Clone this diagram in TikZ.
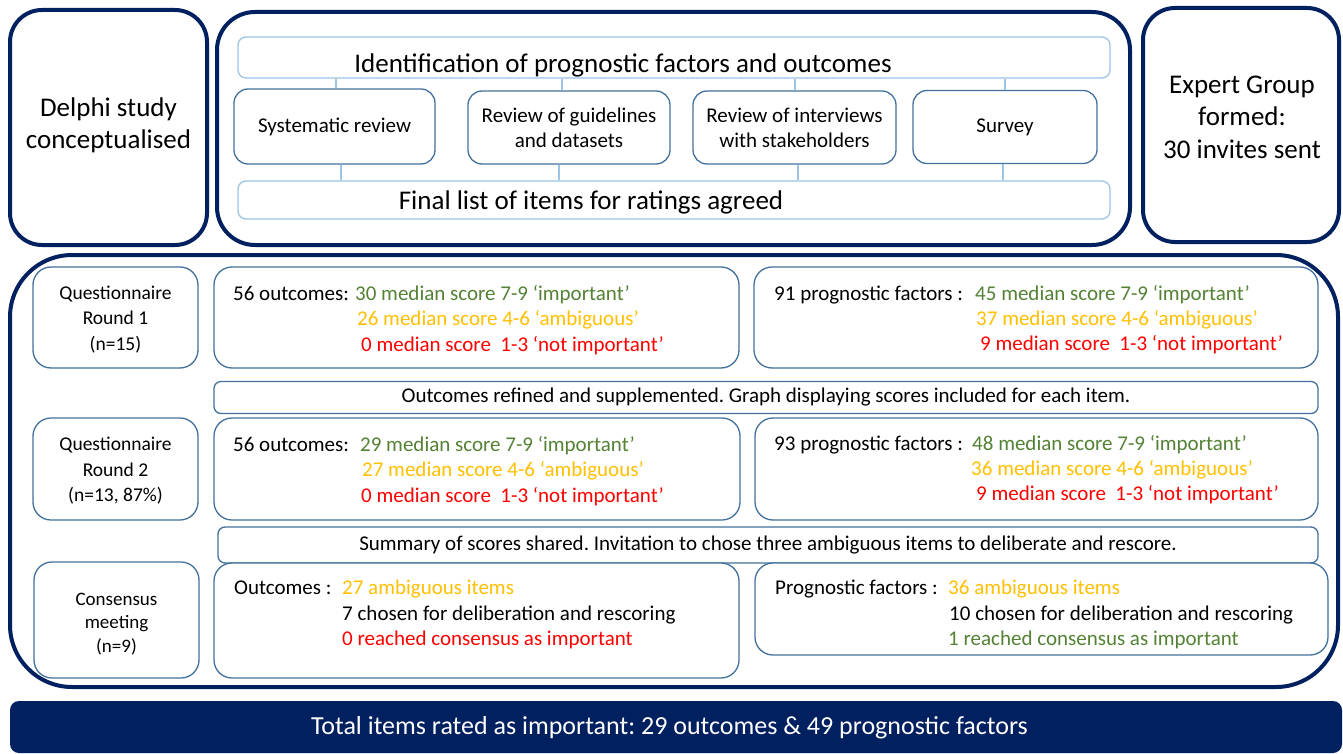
\documentclass[tikz,border=0pt]{standalone}
\usepackage{fontspec}
\setmainfont{Carlito}
\usetikzlibrary{calc}
\frenchspacing

\definecolor{navy}{RGB}{0,32,96}
\definecolor{boxblue}{RGB}{65,113,156}
\definecolor{barblue}{RGB}{157,195,230}
\definecolor{okgreen}{RGB}{84,130,53}
\definecolor{amber}{RGB}{255,192,0}
\definecolor{alertred}{RGB}{255,0,0}

\newcommand{\setfs}[2]{\fontsize{#1}{#2}\selectfont}

\begin{document}
\begin{tikzpicture}[
  x=1pt, y=-1pt,
  frame/.style={draw=navy, line width=4pt, rounded corners=32pt, inner sep=0pt},
  bar/.style={draw=barblue, line width=1.3pt, rounded corners=8pt, fill=white, inner sep=0pt},
  subbox/.style={draw=boxblue, line width=1.3pt, rounded corners=14pt, fill=white,
                 inner sep=0pt, align=center, font=\setfs{21}{25}},
  lowbox/.style={draw=boxblue, line width=1.3pt, rounded corners=18pt, fill=white,
                 inner sep=0pt, align=center, font=\setfs{21}{25}},
  stripe/.style={draw=boxblue, line width=1.3pt, rounded corners=7pt, fill=white,
                 inner sep=0pt, font=\setfs{21}{25}},
  link/.style={draw=barblue, line width=1.3pt},
  bigtxt/.style={inner sep=0pt, align=center},
  line/.style={inner sep=0pt, anchor=base west, font=\setfs{21}{25}},
]
\useasboundingbox (0,0) rectangle (1343,754);

% ---------- preparation phase ----------
\node[frame, minimum width=197pt, minimum height=235pt] (delphi) at (108.5,127.5) {};
\node[bigtxt, font=\setfs{27}{32}] (delphitxt) at (108.5,125) {Delphi study\\conceptualised};

\node[frame, rounded corners=38pt, minimum width=913pt, minimum height=233pt] (mid) at (673.5,128.5) {};

\node[frame, minimum width=196pt, minimum height=234pt] (expert) at (1241,125) {};
\node[bigtxt, font=\setfs{27}{32.5}] (experttxt) at (1242,117) {Expert Group\\formed:\\30 invites sent};

\node[bar, minimum width=872pt, minimum height=41pt] (ident) at (674,57.5) {};
\node[inner sep=0pt, anchor=base, font=\setfs{27}{32}] (identtxt) at (623,72.5)
  {Identification of prognostic factors and outcomes};

\node[subbox, minimum width=201pt, minimum height=75pt] (sys) at (334.5,126.5) {Systematic review};
\node[subbox, minimum width=202pt, minimum height=73pt] (guide) at (569,127.5) {Review of guidelines\\and datasets};
\node[subbox, minimum width=203pt, minimum height=73pt] (interv) at (794.5,127.5) {Review of interviews\\with stakeholders};
\node[subbox, minimum width=184pt, minimum height=73pt] (survey) at (1005,127) {Survey};

\node[bar, minimum width=872pt, minimum height=38pt] (final) at (674,200) {};
\node[inner sep=0pt, anchor=base, font=\setfs{27}{32}] (finaltxt) at (591,209.5)
  {Final list of items for ratings agreed};

% connectors between the bars and the four sources
\draw[link] (sys.north) ++(1.5,0) coordinate (sysup) -- (sysup |- ident.south);
\draw[link] (guide.north) ++(-7,0) coordinate (guideup) -- (guideup |- ident.south);
\draw[link] (interv.north) ++(0.5,0) coordinate (intervup) -- (intervup |- ident.south);
\draw[link] (survey.north) coordinate (surveyup) -- (surveyup |- ident.south);
\draw[link] (sys.south) ++(6.5,0) coordinate (sysdown) -- (sysdown |- final.north);
\draw[link] (guide.south) ++(-10,0) coordinate (guidedown) -- (guidedown |- final.north);
\draw[link] (interv.south) ++(3.5,0) coordinate (intervdown) -- (intervdown |- final.north);
\draw[link] (survey.south) ++(-2,0) coordinate (surveydown) -- (surveydown |- final.north);

% ---------- rating rounds ----------
\node[frame, rounded corners=62pt, minimum width=1328pt, minimum height=432pt] (rounds) at (674,471) {};

% round 1
\node[lowbox, minimum width=165pt, minimum height=101pt] (q1) at (115.5,317.5) {};
\node[bigtxt, font=\setfs{19.5}{25.5}] (q1txt) at (115.5,319.5) {Questionnaire\\Round 1\\(n=15)};
\node[lowbox, minimum width=525pt, minimum height=101pt] (o1) at (476.5,317.5) {};
\node[line] (o1a) at (233,300.5) {56 outcomes:};
\node[line, text=okgreen] (o1b) at (355,300.5) {30 median score 7-9 ‘important’};
\node[line, text=amber] (o1c) at (357,325.5) {26 median score 4-6 ‘ambiguous’};
\node[line, text=alertred] (o1d) at (361,351) {0 median score\ \ 1-3 ‘not important’};

\node[lowbox, minimum width=564pt, minimum height=101pt] (p1) at (1036,317.5) {};
\node[line] (p1a) at (774,300) {91 prognostic factors :};
\node[line, text=okgreen] (p1b) at (975,300) {45 median score 7-9 ‘important’};
\node[line, text=amber] (p1c) at (976,325) {37 median score 4-6 ‘ambiguous’};
\node[line, text=alertred] (p1d) at (980,350) {9 median score\ \ 1-3 ‘not important’};

\node[stripe, minimum width=1104pt, minimum height=32pt] (refine) at (766,397.5)
  {Outcomes refined and supplemented. Graph displaying scores included for each item.};

% round 2
\node[lowbox, minimum width=165pt, minimum height=102pt] (q2) at (115.5,469) {};
\node[bigtxt, font=\setfs{19.5}{25.5}] (q2txt) at (115.5,471) {Questionnaire\\Round 2\\(n=13, 87\%)};
\node[lowbox, minimum width=526pt, minimum height=102pt] (o2) at (477,469) {};
\node[line] (o2a) at (233,451) {56 outcomes:};
\node[line, text=okgreen] (o2b) at (360,451) {29 median score 7-9 ‘important’};
\node[line, text=amber] (o2c) at (362,476.5) {27 median score 4-6 ‘ambiguous’};
\node[line, text=alertred] (o2d) at (361,502) {0 median score\ \ 1-3 ‘not important’};

\node[lowbox, minimum width=563pt, minimum height=102pt] (p2) at (1036.5,469) {};
\node[line] (p2a) at (774,450) {93 prognostic factors :};
\node[line, text=okgreen] (p2b) at (972,450) {48 median score 7-9 ‘important’};
\node[line, text=amber] (p2c) at (971,475) {36 median score 4-6 ‘ambiguous’};
\node[line, text=alertred] (p2d) at (976,500) {9 median score\ \ 1-3 ‘not important’};

\node[stripe, minimum width=1100pt, minimum height=36pt] (summary) at (768,545)
  {Summary of scores shared. Invitation to chose three ambiguous items to deliberate and rescore.};

% consensus meeting
\node[lowbox, minimum width=165pt, minimum height=116pt] (cm) at (116.5,620) {};
\node[bigtxt, font=\setfs{19}{23.5}] (cmtxt) at (116.5,624) {Consensus\\meeting\\(n=9)};

\node[lowbox, minimum width=525pt, minimum height=115pt] (oc) at (476.5,620.5) {};
\node[line] (oca) at (234,594) {Outcomes :};
\node[line, text=amber] (ocb) at (342,594) {27 ambiguous items};
\node[line] (occ) at (342,620) {7 chosen for deliberation and rescoring};
\node[line, text=alertred] (ocd) at (342,645) {0 reached consensus as important};

\node[lowbox, minimum width=573pt, minimum height=92pt] (pc) at (1041.5,609) {};
\node[line] (pca) at (775,594) {Prognostic factors :};
\node[line, text=amber] (pcb) at (948,594) {36 ambiguous items};
\node[line] (pcc) at (949,620) {10 chosen for deliberation and rescoring};
\node[line, text=okgreen] (pcd) at (948,645) {1 reached consensus as important};

% ---------- result ----------
\node[fill=navy, rounded corners=9pt, inner sep=0pt, minimum width=1332pt, minimum height=52pt] (total) at (676,727) {};
\node[inner sep=0pt, text=white, font=\setfs{26}{31}] (totaltxt) at (669.5,728)
  {Total items rated as important: 29 outcomes \& 49 prognostic factors};

\end{tikzpicture}
\end{document}
